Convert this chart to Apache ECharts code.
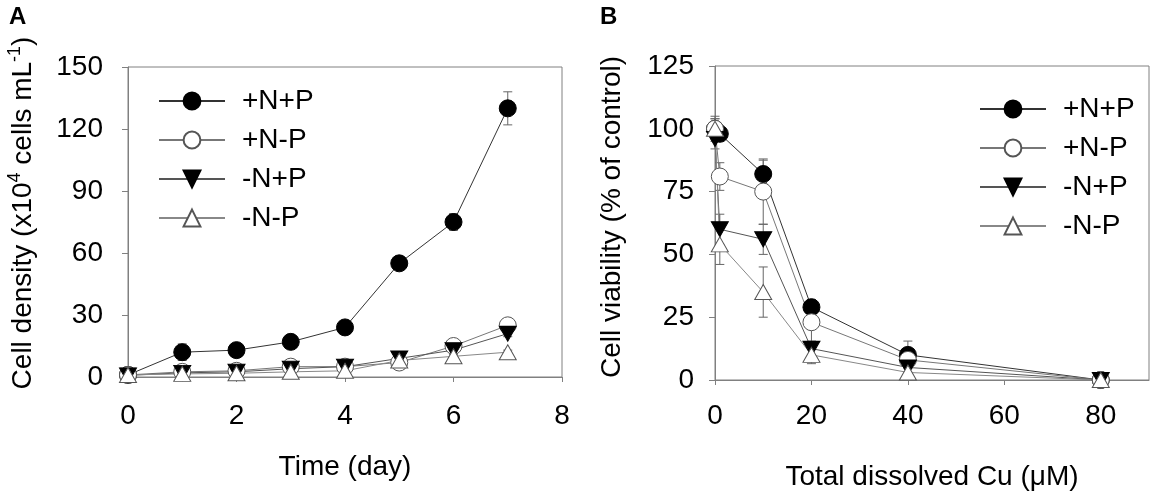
<!DOCTYPE html>
<html>
<head>
<meta charset="utf-8">
<script src="https://cdn.jsdelivr.net/npm/echarts@6/dist/echarts.min.js"></script>
<style>
  html, body { margin: 0; padding: 0; background: #fff; }
  #main { width: 1151px; height: 498px; }
</style>
</head>
<body>
<div id="main"></div>
<script>
// panel A: growth over time
var days = [0, 1, 2, 3, 4, 5, 6, 7];
var dens_pNpP = [1, 12, 13, 17, 24, 55, 75, 130];
var dens_pNmP = [1, 2.5, 3, 5, 5, 7, 15, 25];
var dens_mNpP = [0.8, 2, 2.5, 4, 5, 9, 13, 21];
var dens_mNmP = [1, 1.5, 1.8, 2.5, 3, 8, 10, 12];
var densErr_pNpP = [1, 4, 1.5, 1.5, 1.5, 2, 4, 8];
var densErr_pNmP = [1, 1.5, 1.5, 1.5, 1, 1, 1.5, 2];
var densErr_mNpP = [1, 1, 1.5, 1, 1, 1, 1, 1.5];
var densErr_mNmP = [1, 1, 1, 1, 1, 1, 1, 1];

// panel B: viability vs copper
var cu = [0, 1, 10, 20, 40, 80];
var via_pNpP = [100, 98, 82, 29, 10, 0];
var via_pNmP = [100, 81, 75, 23, 8, 0];
var via_mNpP = [96, 60, 56, 12.5, 5, 0];
var via_mNmP = [100, 54, 35, 10, 3, 0];
var viaErr_pNpP = [4, 3, 5.5, 3, 5.5, 1];
var viaErr_pNmP = [4, 5.5, 13, 8, 3, 1];
var viaErr_mNpP = [4, 6, 6, 3, 2, 1];
var viaErr_mNmP = [5, 8, 10, 3.5, 2, 1];

var names = ['+N+P', '+N-P', '-N+P', '-N-P'];
var ticksA_y = [0, 150, 30];
var ticksB_y = [0, 125, 25];

var FONT = 'Liberation Sans, Arial, sans-serif';
var FS = 28;
var downTri = 'path://M0,0 L10,0 L5,9 Z';

var markers = [
  { symbol: 'circle', size: 17, fill: '#000', stroke: '#000' },
  { symbol: 'circle', size: 17, fill: '#fff', stroke: '#555' },
  { symbol: downTri, size: [17, 15], fill: '#000', stroke: '#000' },
  { symbol: 'triangle', size: [17, 15], fill: '#fff', stroke: '#555' }
];
var lineColors = ['#333', '#777', '#555', '#888'];

var pairs = function(xs, ys) {
  return xs.map(function(x, i) { return [x, ys[i]]; });
};
var errRows = function(xs, ys, es) {
  return xs.map(function(x, i) { return [x, ys[i] - es[i], ys[i] + es[i]]; });
};

var renderErr = function(params, api) {
  var x = api.value(0);
  var top = api.coord([x, api.value(2)]);
  var bot = api.coord([x, api.value(1)]);
  var w = 4.5;
  var st = { stroke: '#666', lineWidth: 1 };
  return {
    type: 'group',
    children: [
      { type: 'line', shape: { x1: top[0], y1: top[1], x2: bot[0], y2: bot[1] }, style: st },
      { type: 'line', shape: { x1: top[0] - w, y1: top[1], x2: top[0] + w, y2: top[1] }, style: st },
      { type: 'line', shape: { x1: bot[0] - w, y1: bot[1], x2: bot[0] + w, y2: bot[1] }, style: st }
    ]
  };
};

var makeLine = function(i, data, axis) {
  var m = markers[i];
  return {
    type: 'line',
    name: names[i],
    xAxisIndex: axis, yAxisIndex: axis,
    data: data,
    symbol: m.symbol,
    symbolSize: m.size,
    showAllSymbol: true,
    clip: false,
    z: 3,
    itemStyle: { color: m.fill, borderColor: m.stroke, borderWidth: 1, opacity: 1 },
    lineStyle: { color: lineColors[i], width: 1 },
    emphasis: { disabled: true },
    animation: false
  };
};

var makeErr = function(rows, axis) {
  return {
    type: 'custom',
    xAxisIndex: axis, yAxisIndex: axis,
    data: rows,
    encode: { x: 0, y: [1, 2] },
    renderItem: renderErr,
    clip: false,
    silent: true,
    z: 2,
    animation: false
  };
};

var axisLine = { show: true, lineStyle: { color: '#808080', width: 1 } };
var tick = function(len) { return { show: true, inside: false, length: len, lineStyle: { color: '#808080' } }; };
var labelStyle = function(margin) { return { fontSize: FS, color: '#000', fontFamily: FONT, margin: margin }; };

var legendBase = function(left, top) {
  return {
    orient: 'vertical',
    left: left, top: top,
    itemWidth: 66, itemHeight: 21, itemGap: 11,
    selectedMode: false,
    data: names,
    textStyle: { fontSize: FS, color: '#000', fontFamily: FONT, padding: [0, 0, 0, 12] }
  };
};

var titleRich = {
  a: { fontSize: FS, fontFamily: FONT, color: '#000', lineHeight: 33 },
  s: { fontSize: 18, fontFamily: FONT, color: '#000', lineHeight: 33, verticalAlign: 'top' }
};

var option = {
  backgroundColor: '#fff',
  textStyle: { fontFamily: FONT },
  animation: false,
  grid: [
    { left: 128, top: 67, width: 434, height: 310, show: true, borderColor: '#808080', borderWidth: 1, backgroundColor: 'transparent' },
    { left: 715, top: 66, width: 434, height: 314, show: true, borderColor: '#808080', borderWidth: 1, backgroundColor: 'transparent' }
  ],
  xAxis: [
    {
      type: 'value', gridIndex: 0, min: 0, max: 8, interval: 2,
      axisLine: axisLine, axisTick: tick(5), splitLine: { show: false },
      axisLabel: labelStyle(25),
      name: 'Time (day)', nameLocation: 'middle', nameGap: 76,
      nameTextStyle: { fontSize: FS, color: '#000', fontFamily: FONT }
    },
    {
      type: 'value', gridIndex: 1, min: 0, max: 90, interval: 20,
      axisLine: axisLine, axisTick: tick(5), splitLine: { show: false },
      axisLabel: Object.assign(labelStyle(22), { showMaxLabel: false }),
      name: 'Total dissolved Cu (\u03bcM)', nameLocation: 'middle', nameGap: 83,
      nameTextStyle: { fontSize: FS, color: '#000', fontFamily: FONT }
    }
  ],
  yAxis: [
    {
      type: 'value', gridIndex: 0, min: ticksA_y[0], max: ticksA_y[1], interval: ticksA_y[2],
      axisLine: axisLine, axisTick: tick(6), splitLine: { show: false },
      axisLabel: labelStyle(25)
    },
    {
      type: 'value', gridIndex: 1, min: ticksB_y[0], max: ticksB_y[1], interval: ticksB_y[2],
      axisLine: axisLine, axisTick: tick(6), splitLine: { show: false },
      axisLabel: labelStyle(21)
    }
  ],
  legend: [legendBase(153, 82), legendBase(974, 90)],
  graphic: [
    { type: 'text', left: 9, top: 5, style: { text: 'A', fontSize: 24, fontWeight: 'bold', fontFamily: FONT, fill: '#000' } },
    { type: 'text', left: 600, top: 5, style: { text: 'B', fontSize: 24, fontWeight: 'bold', fontFamily: FONT, fill: '#000' } },
    {
      type: 'text', x: 23, y: 213, rotation: Math.PI / 2,
      style: {
        text: '{a|Cell density (x10}{s|4}{a| cells mL}{s|-1}{a|)}',
        rich: titleRich, align: 'center', verticalAlign: 'middle'
      }
    },
    {
      type: 'text', x: 612, y: 217, rotation: Math.PI / 2,
      style: {
        text: 'Cell viability (% of control)', fontSize: FS, fontFamily: FONT, fill: '#000',
        align: 'center', verticalAlign: 'middle'
      }
    }
  ],
  series: [
    makeErr(errRows(days, dens_pNpP, densErr_pNpP), 0),
    makeErr(errRows(days, dens_pNmP, densErr_pNmP), 0),
    makeErr(errRows(days, dens_mNpP, densErr_mNpP), 0),
    makeErr(errRows(days, dens_mNmP, densErr_mNmP), 0),
    makeErr(errRows(cu, via_pNpP, viaErr_pNpP), 1),
    makeErr(errRows(cu, via_pNmP, viaErr_pNmP), 1),
    makeErr(errRows(cu, via_mNpP, viaErr_mNpP), 1),
    makeErr(errRows(cu, via_mNmP, viaErr_mNmP), 1),
    makeLine(0, pairs(days, dens_pNpP), 0),
    makeLine(1, pairs(days, dens_pNmP), 0),
    makeLine(2, pairs(days, dens_mNpP), 0),
    makeLine(3, pairs(days, dens_mNmP), 0),
    makeLine(0, pairs(cu, via_pNpP), 1),
    makeLine(1, pairs(cu, via_pNmP), 1),
    makeLine(2, pairs(cu, via_mNpP), 1),
    makeLine(3, pairs(cu, via_mNmP), 1)
  ]
};

var chart = echarts.init(document.getElementById('main'), null, { renderer: 'canvas' });
chart.setOption(option);
</script>
</body>
</html>
